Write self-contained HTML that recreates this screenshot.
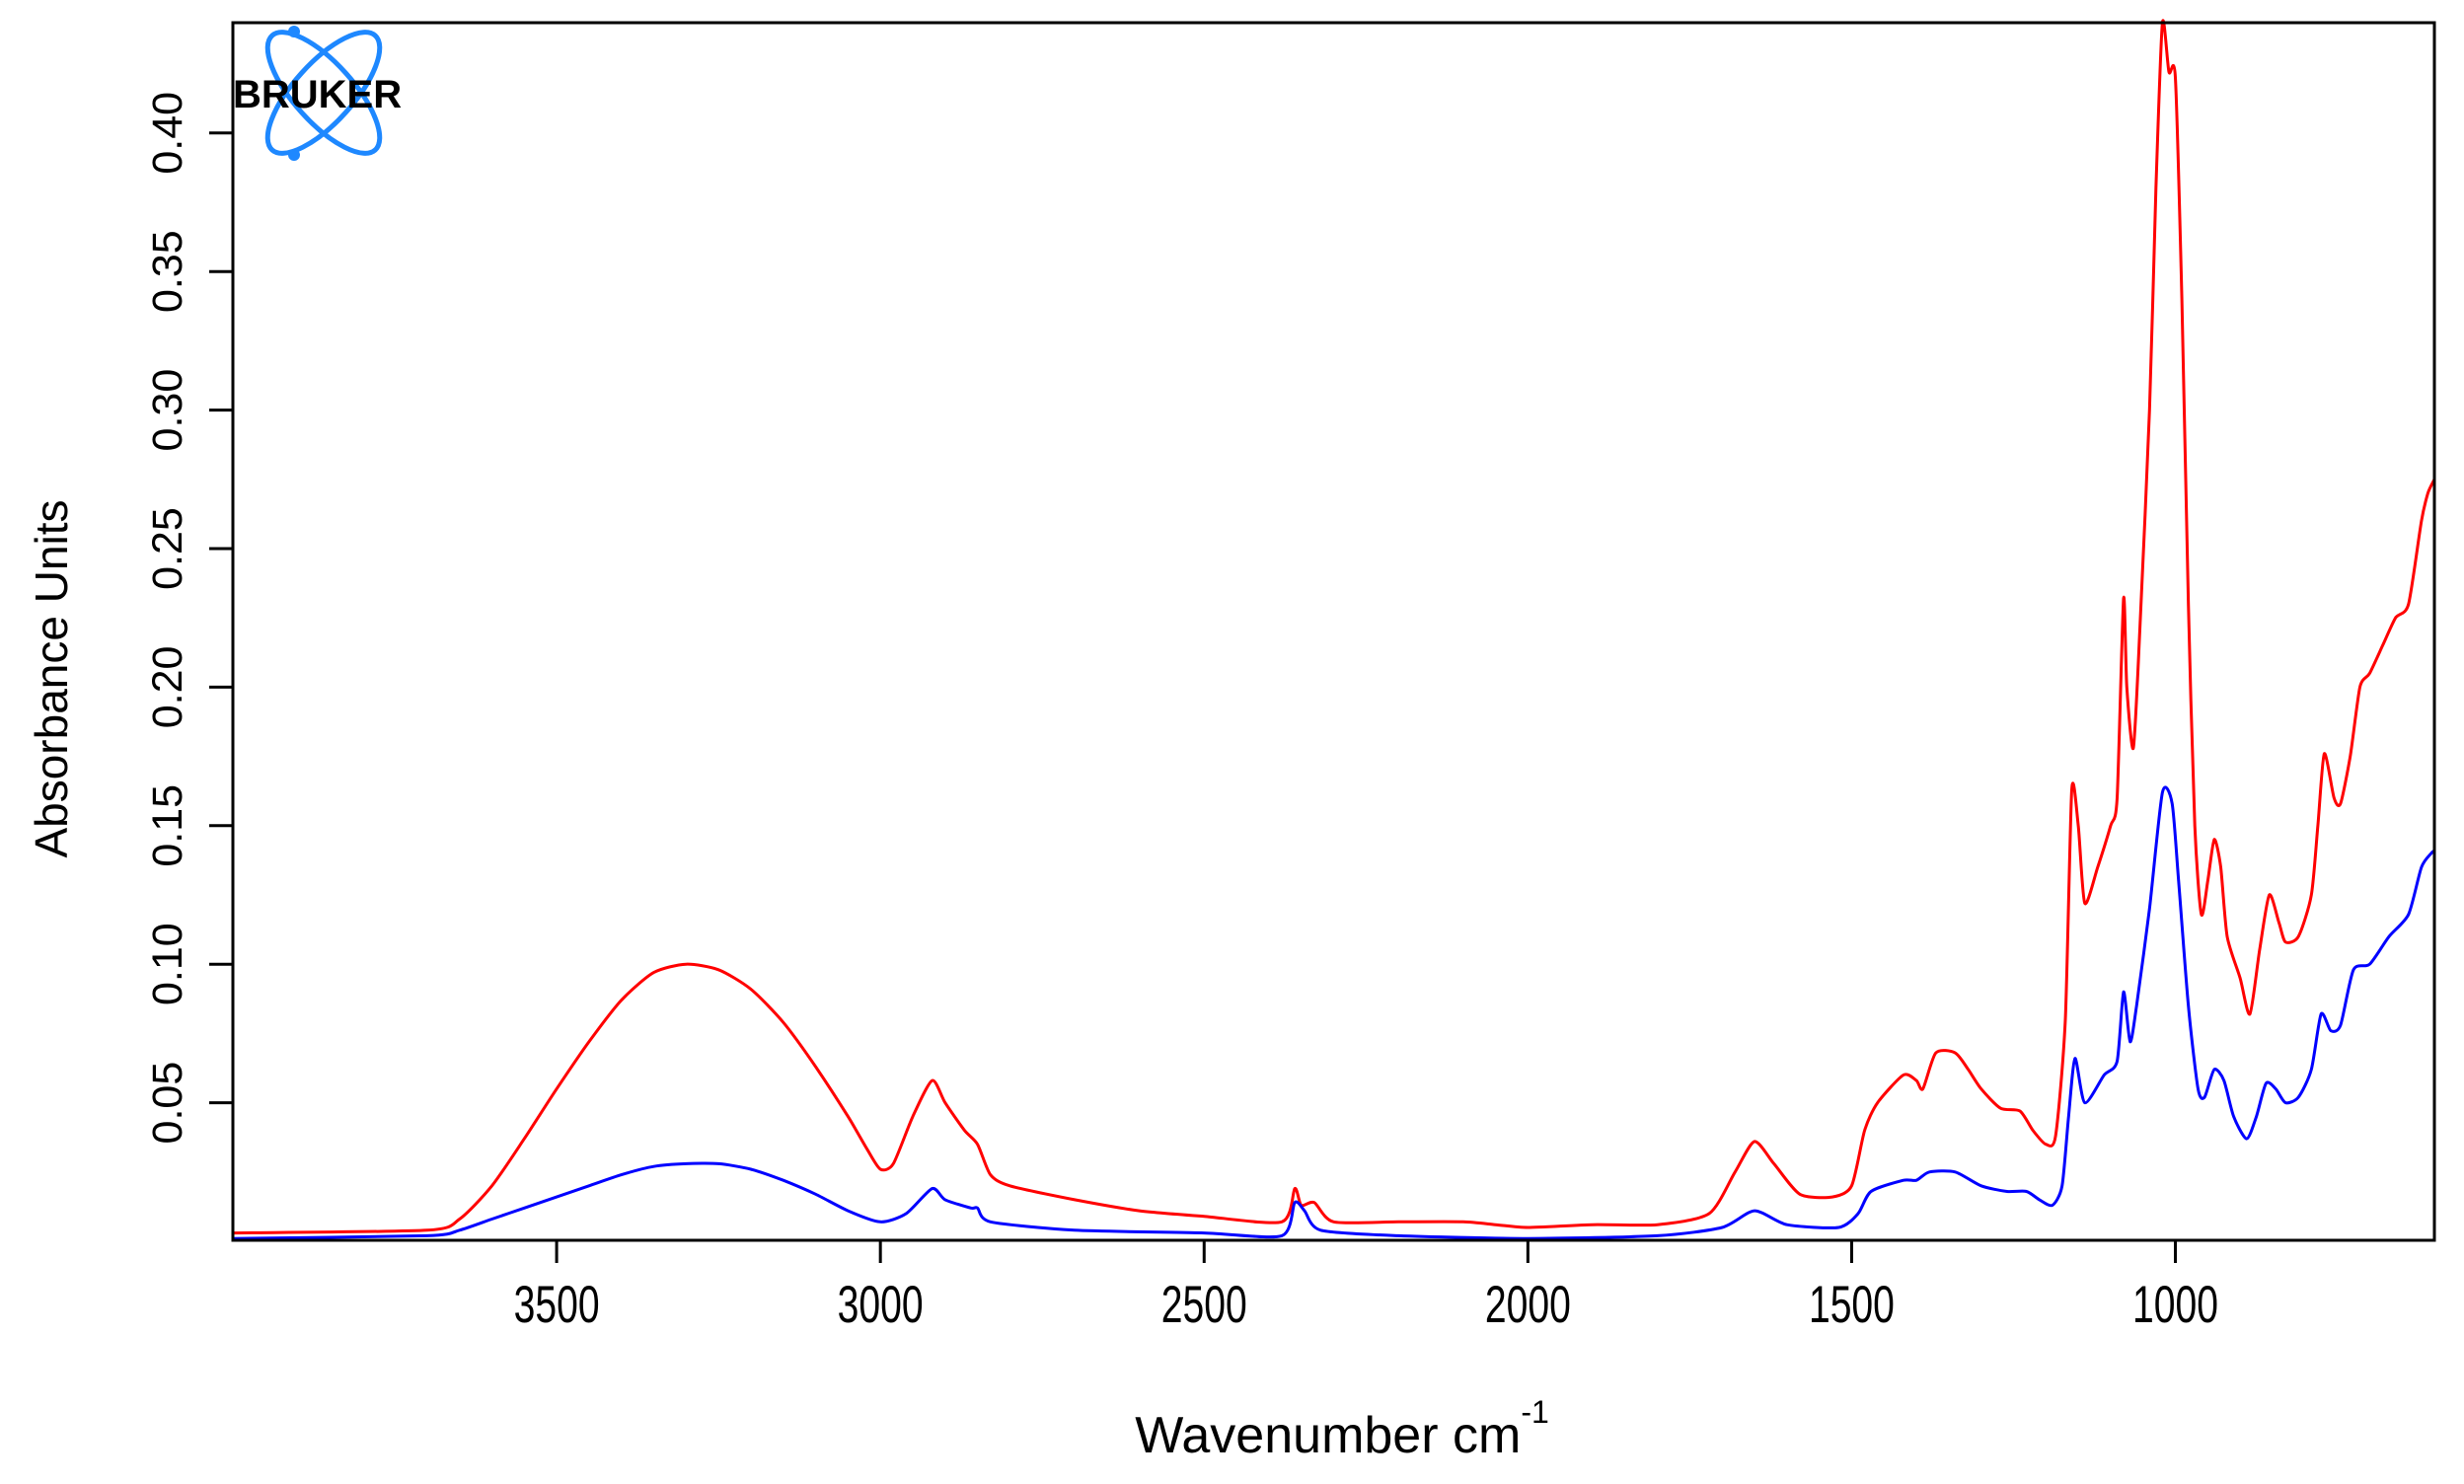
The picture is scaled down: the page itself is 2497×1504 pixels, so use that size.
<!DOCTYPE html>
<html><head><meta charset="utf-8"><style>
html,body{margin:0;padding:0;background:#fff;}
svg{display:block;font-family:"Liberation Sans",sans-serif;}
</style></head><body>
<svg id="chart" width="2497" height="1504" viewBox="0 0 2497 1504" xmlns="http://www.w3.org/2000/svg">
<rect width="2497" height="1504" fill="#fff"/>
<g id="logo">
  <ellipse cx="328" cy="94" rx="30" ry="78" transform="rotate(-42 328 94)" fill="none" stroke="#1e88ff" stroke-width="5"/>
  <ellipse cx="328" cy="94" rx="30" ry="78" transform="rotate(42 328 94)" fill="none" stroke="#1e88ff" stroke-width="5"/>
  <circle cx="298" cy="32" r="6" fill="#1e88ff"/>
  <circle cx="298" cy="157" r="6" fill="#1e88ff"/>
  <text x="236" y="109" font-size="40" font-weight="bold" fill="#000">BRUKER</text>
</g>
<g id="series"></g>
<rect x="236" y="23" width="2231" height="1234" fill="none" stroke="#000" stroke-width="3"/>
<g id="axes"></g>
<text x="1360" y="1472" font-size="52" text-anchor="middle">Wavenumber cm<tspan dy="-30" font-size="32">-1</tspan></text>
<text transform="translate(68 688) rotate(-90)" font-size="46" text-anchor="middle">Absorbance Units</text>
</svg>
<script>
const xTicks = [3500, 3000, 2500, 2000, 1500, 1000];
const yTicks = [0.05, 0.10, 0.15, 0.20, 0.25, 0.30, 0.35, 0.40];
const yTickLabels = ["0.05","0.10","0.15","0.20","0.25","0.30","0.35","0.40"];
const redWn = [4000,3700,3650,3600,3550,3500,3450,3400,3350,3300,3250,3200,3150,3100,3050,3020,3000,2980,2950,2920,2900,2870,2850,2830,2800,2700,2600,2500,2380,2360,2350,2330,2300,2200,2100,2050,2000,1900,1800,1720,1680,1650,1620,1580,1530,1500,1480,1460,1420,1400,1390,1370,1340,1320,1300,1270,1240,1220,1200,1185,1170,1160,1150,1140,1120,1100,1090,1080,1075,1065,1055,1040,1030,1020,1010,1000,990,980,970,960,950,940,930,920,900,885,870,855,840,830,810,790,780,770,755,745,730,715,700,680,660,640,620,610,600];
const redAbs = [0.003,0.004,0.008,0.020,0.037,0.055,0.072,0.087,0.097,0.100,0.098,0.091,0.079,0.063,0.045,0.033,0.026,0.028,0.045,0.058,0.050,0.040,0.035,0.024,0.020,0.015,0.011,0.009,0.007,0.019,0.013,0.014,0.007,0.007,0.007,0.006,0.005,0.006,0.006,0.010,0.025,0.036,0.028,0.017,0.016,0.020,0.040,0.050,0.060,0.058,0.055,0.068,0.068,0.062,0.055,0.048,0.047,0.040,0.035,0.038,0.080,0.163,0.150,0.122,0.135,0.150,0.160,0.232,0.200,0.178,0.220,0.300,0.380,0.440,0.422,0.420,0.340,0.230,0.150,0.118,0.130,0.145,0.135,0.110,0.095,0.082,0.105,0.125,0.115,0.108,0.110,0.125,0.150,0.176,0.160,0.158,0.175,0.200,0.205,0.215,0.225,0.230,0.260,0.270,0.275];
const blueWn = [4000,3700,3650,3600,3550,3500,3450,3400,3350,3300,3250,3200,3150,3100,3050,3000,2960,2920,2900,2860,2850,2830,2700,2500,2380,2360,2345,2320,2200,2000,1800,1700,1650,1600,1520,1490,1470,1420,1400,1380,1340,1300,1260,1230,1210,1190,1175,1165,1155,1140,1110,1090,1080,1070,1060,1040,1020,1005,995,980,965,955,940,925,910,890,875,860,845,830,810,790,775,760,745,725,700,670,640,620,605,600];
const blueAbs = [0.001,0.002,0.004,0.008,0.012,0.016,0.020,0.024,0.027,0.028,0.028,0.026,0.022,0.017,0.011,0.007,0.010,0.019,0.015,0.012,0.012,0.007,0.004,0.003,0.002,0.014,0.011,0.004,0.002,0.001,0.002,0.005,0.011,0.006,0.005,0.010,0.018,0.022,0.022,0.025,0.025,0.020,0.018,0.018,0.015,0.013,0.020,0.045,0.066,0.050,0.060,0.065,0.090,0.072,0.085,0.120,0.162,0.158,0.130,0.085,0.055,0.052,0.062,0.058,0.045,0.037,0.045,0.057,0.055,0.050,0.052,0.062,0.082,0.076,0.078,0.098,0.100,0.110,0.118,0.135,0.140,0.141];

const NS = "http://www.w3.org/2000/svg";
const L = 236, R = 2467, T = 23, B = 1257;
const X = wn => L + (4000 - wn) / 3400 * (R - L);
const Y = a => 1258 - a / 0.05 * 140.4;

const series = document.getElementById('series');
function drawLine(wn, ab, color, name) {
  const pts = wn.map((w, i) => [X(w), Math.max(T, Y(ab[i]))]);
  let d = 'M' + pts[0][0].toFixed(1) + ',' + pts[0][1].toFixed(1);
  for (let i = 0; i < pts.length - 1; i++) {
    const p0 = pts[Math.max(0, i - 1)], p1 = pts[i], p2 = pts[i + 1], p3 = pts[Math.min(pts.length - 1, i + 2)];
    const t = 0.12;
    const c1 = [p1[0] + (p2[0] - p0[0]) * t, p1[1] + (p2[1] - p0[1]) * t];
    const c2 = [p2[0] - (p3[0] - p1[0]) * t, p2[1] - (p3[1] - p1[1]) * t];
    d += ' C' + c1.map(v => v.toFixed(1)).join(',') + ' ' + c2.map(v => v.toFixed(1)).join(',') + ' ' + p2[0].toFixed(1) + ',' + p2[1].toFixed(1);
  }
  const p = document.createElementNS(NS, 'path');
  p.setAttribute('d', d);
  p.setAttribute('fill', 'none');
  p.setAttribute('stroke', color);
  p.setAttribute('stroke-width', '3');
  p.setAttribute('stroke-linejoin', 'round');
  
  
  series.appendChild(p);
}
drawLine(redWn, redAbs, '#ff0000', 'red-spectrum-line');
drawLine(blueWn, blueAbs, '#0000ff', 'blue-spectrum-line');

const axes = document.getElementById('axes');
xTicks.forEach(t => {
  const x = X(t);
  const ln = document.createElementNS(NS, 'line');
  ln.setAttribute('x1', x); ln.setAttribute('x2', x);
  ln.setAttribute('y1', B); ln.setAttribute('y2', B + 23);
  ln.setAttribute('stroke', '#000'); ln.setAttribute('stroke-width', '3');
  
  
  axes.appendChild(ln);
  const tx = document.createElementNS(NS, 'text');
  tx.setAttribute('x', x / 0.85); tx.setAttribute('y', 1340 / 1.15);
  tx.setAttribute('font-size', '46'); tx.setAttribute('text-anchor', 'middle');
  tx.setAttribute('transform', 'scale(0.85 1.15)');
  
  
  tx.textContent = String(t);
  axes.appendChild(tx);
});
yTicks.forEach((t, i) => {
  const y = Y(t);
  const ln = document.createElementNS(NS, 'line');
  ln.setAttribute('x1', L - 24); ln.setAttribute('x2', L);
  ln.setAttribute('y1', y); ln.setAttribute('y2', y);
  ln.setAttribute('stroke', '#000'); ln.setAttribute('stroke-width', '3');
  
  
  axes.appendChild(ln);
  const tx = document.createElementNS(NS, 'text');
  tx.setAttribute('transform', `translate(184 ${y}) rotate(-90)`);
  tx.setAttribute('font-size', '43'); tx.setAttribute('text-anchor', 'middle');
  
  
  tx.textContent = yTickLabels[i];
  axes.appendChild(tx);
});
</script>
</body></html>
